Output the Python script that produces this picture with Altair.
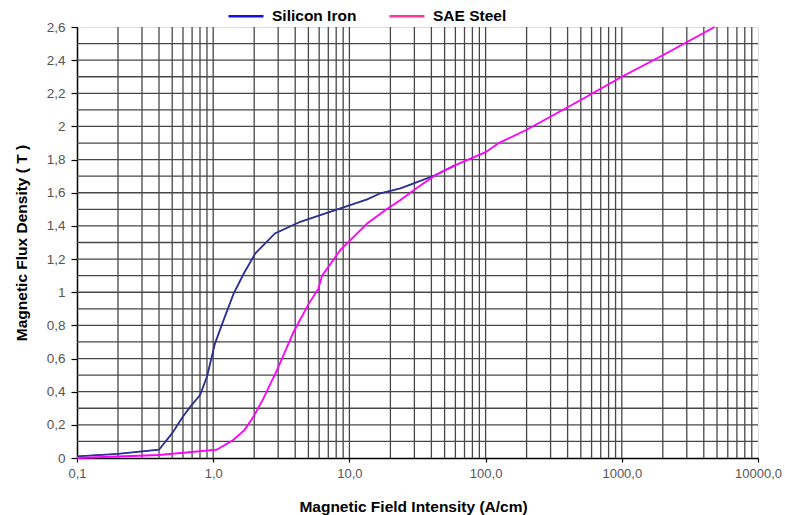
import altair as alt
import pandas as pd

# ---- data ----
series = ["Silicon Iron", "SAE Steel"]

si_h = [0.1, 0.2, 0.4, 0.5, 0.6, 0.68, 0.8, 0.9, 1.03, 1.19, 1.41, 1.67, 2.04, 2.84,
        4.36, 8.59, 13.5, 16.9, 23.7, 29.7, 43, 60]
si_b = [0.01, 0.025, 0.05, 0.15, 0.25, 0.31, 0.38, 0.49, 0.69, 0.83, 0.99, 1.11, 1.235, 1.355,
        1.425, 1.506, 1.56, 1.597, 1.627, 1.657, 1.707, 1.767]

sae_h = [0.1, 0.4, 1.06, 1.2, 1.41, 1.7, 1.98, 2.34, 2.94, 3.89, 5.02, 5.91, 6.3, 8.59,
         13.5, 18.4, 23.7, 33, 43, 60, 100, 125, 200, 500, 1000, 2000, 4800]
sae_b = [0.0, 0.018, 0.05, 0.075, 0.11, 0.17, 0.25, 0.36, 0.53, 0.76, 0.93, 1.02, 1.10, 1.255,
         1.415, 1.496, 1.556, 1.643, 1.707, 1.767, 1.845, 1.90, 1.98, 2.16, 2.30, 2.43, 2.60]

x_ticks = [0.1, 1, 10, 100, 1000, 10000]
y_ticks = [0, 0.2, 0.4, 0.6, 0.8, 1.0, 1.2, 1.4, 1.6, 1.8, 2.0, 2.2, 2.4, 2.6]
x_grid = [m * 10.0 ** e for e in range(-1, 4) for m in range(2, 10)] + [1, 10, 100, 1000]
y_grid = [i / 10 for i in range(1, 26)]

line_colors = ["#2E3192", "#FF00FF"]
legend_colors = ["#1010F0", "#FF3399"]

FONT = "Liberation Sans"

# ---- tables ----
df_si = pd.DataFrame({"H": si_h, "B": si_b, "series": series[0]})
df_sae = pd.DataFrame({"H": sae_h, "B": sae_b, "series": series[1]})
df_all = pd.concat([df_si, df_sae], ignore_index=True)
df_xg = pd.DataFrame({"H": x_grid})
df_yg = pd.DataFrame({"B": y_grid})

xscale = alt.Scale(type="log", domain=[0.1, 10000], nice=False)
yscale = alt.Scale(domain=[0, 2.6], nice=False)

x_axis = alt.Axis(
    values=x_ticks,
    labelExpr="replace(format(datum.value, '.1f'), '.', ',')",
    title="Magnetic Field Intensity (A/cm)",
    grid=False,
    domainColor="black", domainWidth=1.5,
    tickColor="black", tickSize=4, tickWidth=1.2,
    labelFont=FONT, labelFontSize=13, labelColor="#555555", labelPadding=5,
    labelFlush=False, labelOverlap=False,
    titleFont=FONT, titleFontSize=15.5, titleFontWeight="bold", titleColor="black",
    titleBaseline="alphabetic", titleX=336, titleY=53,
)
y_axis = alt.Axis(
    values=y_ticks,
    labelExpr="replace(format(datum.value, '.1~f'), '.', ',')",
    title="Magnetic Flux Density ( T )",
    grid=False,
    domainColor="black", domainWidth=1.5,
    tickColor="black", tickSize=6, tickWidth=1.2,
    labelFont=FONT, labelFontSize=13.5, labelColor="#555555", labelPadding=6,
    labelFlush=False, labelOverlap=False,
    titleFont=FONT, titleFontSize=15.5, titleFontWeight="bold", titleColor="black",
    titleBaseline="alphabetic", titleX=-51, titleY=215.5,
)

X = alt.X("H:Q", scale=xscale, axis=x_axis)
Y = alt.Y("B:Q", scale=yscale, axis=y_axis)

vgrid = alt.Chart(df_xg).mark_rule(color="#474747", strokeWidth=1.3).encode(x=X)
hgrid = alt.Chart(df_yg).mark_rule(color="#474747", strokeWidth=1.3).encode(y=Y)

legend_layer = alt.Chart(df_all).mark_line(strokeWidth=0.8).encode(
    x=X, y=Y,
    color=alt.Color(
        "series:N",
        scale=alt.Scale(domain=series, range=legend_colors),
        legend=alt.Legend(
            title=None, orient="none", direction="horizontal",
            legendX=150, legendY=-30, padding=0,
            symbolType="stroke", symbolSize=1225, symbolStrokeWidth=2.5,
            labelFont=FONT, labelFontSize=15.5, labelFontWeight="bold", labelColor="black",
            labelOffset=7, columnPadding=27,
        ),
    ),
)

si_line = alt.Chart(df_si).mark_line(color=line_colors[0], strokeWidth=1.8).encode(x=X, y=Y)
sae_line = alt.Chart(df_sae).mark_line(color=line_colors[1], strokeWidth=1.8).encode(x=X, y=Y)

chart = alt.layer(vgrid, hgrid, legend_layer, si_line, sae_line).properties(
    width=681, height=431,
    autosize=alt.AutoSizeParams(type="none"),
    padding={"left": 77, "top": 27, "right": 27, "bottom": 57},
).configure_view(stroke=None).configure(background="white")

chart.save("out.html", embed_options={"renderer": "svg", "actions": False})
